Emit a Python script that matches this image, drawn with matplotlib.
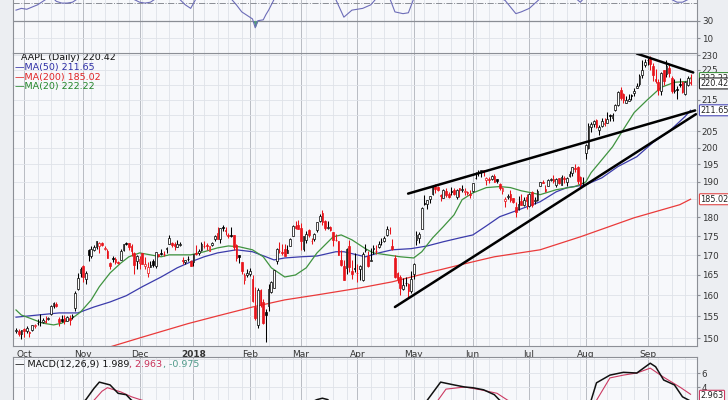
import numpy as np
import pandas as pd
import matplotlib
matplotlib.use("Agg")
import matplotlib.pyplot as plt
import matplotlib.transforms as mtransforms
from matplotlib.ticker import NullLocator

# trading calendar
start_date = "2017-09-27"
holidays = ["2017-11-23", "2017-12-25", "2018-01-01", "2018-01-15", "2018-02-19",
            "2018-03-30", "2018-05-28", "2018-07-04", "2018-09-03"]

# daily OHLC (raw, before dividend adjustment), Sep 27 2017 .. Sep 26 2018
opens = [153.8, 153.9, 153.2,
    154.3, 154.0, 153.6, 154.2, 154.97, 155.8, 156.1, 155.97, 156.35, 156.73, 157.9, 159.78, 160.42, 156.75, 156.61, 156.89, 156.29, 156.91, 157.23, 159.29, 163.89, 167.90,
    169.87, 166.60, 174.00, 172.37, 173.91, 174.66, 175.11, 175.11, 173.5, 173.04, 169.97, 171.18, 171.04, 170.29, 170.78, 173.36, 175.10, 175.05, 174.30, 172.63, 170.43,
    169.95, 172.48, 169.06, 167.50, 169.03, 170.49, 169.20, 172.15, 172.50, 172.40, 173.63, 174.88, 175.03, 174.87, 174.17, 174.68, 170.80, 170.10, 171.00, 170.52,
    170.16, 172.53, 172.54, 173.44, 174.35, 174.55, 173.16, 174.59, 176.18, 177.90, 176.15, 179.37, 178.61, 177.30, 177.30, 177.25, 174.51, 172.00, 170.16, 165.53, 166.87,
    167.17, 166.00, 159.10, 154.83, 163.09, 160.29, 157.07, 158.50, 161.95, 163.04, 169.79, 172.36, 172.05, 172.83, 171.80, 173.67, 176.35, 179.10, 179.26,
    178.54, 172.80, 175.21, 177.91, 174.94, 175.48, 177.96, 180.29, 182.59, 180.32, 178.50, 178.65, 177.32, 175.24, 175.04, 170.00, 168.39, 168.07, 173.68, 167.25, 167.81,
    166.64, 167.64, 164.88, 172.58, 170.97, 169.88, 173.00, 172.23, 173.41, 174.78, 175.03, 176.49, 177.81, 173.76, 170.60, 166.83, 165.67, 162.62, 164.12, 164.00, 162.13,
    166.41, 175.23, 175.88, 178.25, 185.18, 184.99, 186.55, 187.74, 189.49, 189.01, 186.78, 186.07, 188.00, 187.19, 188.00, 188.38, 186.35, 188.77, 188.23, 187.60, 187.72, 187.22,
    187.99, 191.64, 193.07, 193.63, 194.14, 191.17, 191.35, 191.39, 192.42, 191.55, 190.03, 187.88, 185.14, 186.35, 187.25, 186.12, 183.40, 182.99, 185.23, 184.10, 186.29,
    183.82, 187.79, 185.26, 185.42, 189.50, 190.71, 188.50, 189.53, 191.08, 191.52, 189.75, 191.78, 189.69, 191.78, 190.68, 192.45, 193.06, 194.61, 194.99, 191.90, 190.30,
    199.13, 200.58, 207.03, 208.00, 209.32, 206.05, 207.28, 207.36, 207.70, 210.16, 209.22, 211.75, 213.44, 218.10, 216.80, 214.10, 214.65, 216.60, 217.15, 219.01, 220.15, 223.25, 226.51,
    228.41, 228.99, 226.23, 221.85, 220.95, 218.01, 224.94, 223.52, 225.75, 222.15, 217.79, 218.50, 220.24, 220.78, 216.82, 219.75, 221.00]
highs = [154.7, 154.3, 154.1,
    154.5, 155.1, 153.9, 155.4, 155.5, 156.7, 158.0, 156.98, 157.37, 157.28, 160.0, 160.87, 160.71, 157.08, 157.75, 157.69, 157.42, 157.55, 157.83, 163.60, 168.07, 169.65,
    169.94, 168.50, 174.26, 174.99, 175.25, 176.24, 176.10, 175.38, 174.5, 173.48, 170.32, 171.87, 171.39, 170.56, 173.70, 175.00, 175.50, 175.08, 174.87, 172.92, 172.14,
    171.67, 172.62, 171.52, 170.20, 170.44, 171.00, 172.89, 172.39, 173.54, 173.13, 174.17, 177.20, 175.39, 175.42, 176.02, 175.42, 171.47, 170.78, 171.85, 170.59,
    172.30, 174.55, 173.47, 175.37, 175.61, 175.06, 174.30, 175.49, 177.36, 179.39, 179.25, 180.10, 179.58, 177.78, 179.44, 177.30, 174.95, 172.00, 170.16, 167.37, 168.44,
    168.62, 166.80, 163.88, 163.72, 163.40, 161.00, 157.89, 163.89, 164.75, 167.54, 173.09, 174.82, 174.26, 174.12, 173.95, 175.65, 179.39, 180.48, 180.62,
    179.78, 176.30, 177.74, 178.25, 175.85, 177.12, 180.00, 182.39, 183.50, 180.52, 180.24, 179.12, 177.47, 176.80, 175.09, 172.68, 169.92, 173.10, 175.15, 170.02, 171.75,
    168.94, 168.75, 172.01, 174.23, 172.48, 173.09, 174.00, 173.92, 175.00, 175.84, 176.19, 178.94, 178.82, 175.39, 171.22, 166.92, 166.33, 165.42, 165.73, 164.33, 167.26,
    169.20, 177.75, 177.50, 184.25, 187.67, 186.22, 187.40, 190.37, 190.06, 189.53, 187.07, 188.46, 188.91, 187.81, 189.27, 188.88, 188.50, 188.84, 189.65, 188.75, 188.00, 188.23,
    190.26, 193.42, 193.94, 194.08, 194.20, 192.00, 191.97, 192.61, 192.88, 191.57, 190.16, 189.22, 186.33, 187.20, 188.35, 186.15, 184.92, 186.53, 187.28, 186.21, 187.19,
    187.30, 187.95, 186.41, 188.43, 190.68, 191.28, 189.78, 191.41, 191.84, 192.65, 191.87, 191.80, 192.55, 192.43, 191.96, 193.66, 194.85, 195.96, 195.19, 192.20, 192.14,
    201.76, 208.38, 208.74, 209.25, 209.50, 207.81, 209.78, 209.10, 210.95, 210.56, 210.74, 213.81, 217.95, 219.18, 217.19, 216.36, 217.05, 216.90, 218.74, 220.54, 223.49, 228.26, 228.87,
    229.18, 229.67, 227.35, 225.37, 221.85, 224.30, 225.00, 228.35, 226.84, 222.95, 221.85, 219.62, 222.28, 221.36, 221.26, 222.82, 223.75]
lows = [153.5, 152.7, 152.0,
    152.5, 153.5, 152.5, 154.0, 154.6, 155.3, 155.1, 155.75, 155.73, 156.41, 157.65, 159.23, 159.6, 155.02, 155.96, 155.5, 156.2, 155.27, 156.78, 158.70, 163.72, 166.94,
    165.61, 165.28, 171.12, 171.72, 173.60, 174.33, 173.14, 174.27, 173.4, 171.18, 168.38, 170.30, 169.64, 169.56, 170.78, 173.05, 174.65, 173.34, 171.86, 167.16, 168.44,
    168.50, 169.63, 168.40, 166.46, 168.91, 168.82, 168.79, 171.46, 172.00, 171.65, 172.46, 174.86, 174.09, 173.25, 174.10, 174.50, 169.68, 169.71, 170.48, 169.22,
    169.26, 171.96, 172.08, 173.05, 173.93, 173.41, 173.00, 174.49, 175.65, 176.14, 175.07, 178.25, 177.41, 176.60, 176.82, 173.20, 170.53, 170.06, 167.07, 164.70, 166.50,
    166.76, 160.10, 156.00, 154.00, 159.07, 155.03, 150.24, 157.51, 161.65, 162.88, 169.00, 171.77, 171.42, 171.01, 171.71, 173.54, 176.21, 178.16, 178.05,
    172.66, 172.45, 174.52, 176.13, 174.27, 175.07, 177.39, 180.21, 179.24, 177.81, 178.07, 177.62, 173.66, 174.94, 171.26, 168.60, 164.94, 166.44, 166.92, 165.19, 166.90,
    164.47, 164.88, 164.77, 172.08, 168.20, 169.85, 171.53, 171.70, 173.04, 173.85, 174.83, 176.41, 176.88, 172.66, 165.43, 164.09, 161.22, 162.41, 163.37, 160.63, 161.84,
    165.27, 173.80, 174.44, 178.17, 184.75, 183.67, 185.22, 187.65, 187.45, 187.86, 185.10, 186.00, 186.36, 186.13, 186.91, 186.78, 185.76, 186.21, 187.65, 186.87, 186.78, 186.14,
    187.75, 191.35, 192.36, 191.92, 192.34, 189.77, 190.21, 191.15, 190.44, 190.22, 188.26, 187.20, 183.45, 185.73, 184.94, 184.70, 180.73, 182.54, 184.03, 183.80, 182.91,
    183.42, 183.54, 184.28, 185.20, 189.30, 190.18, 187.61, 189.31, 190.90, 190.42, 189.20, 189.93, 189.69, 190.17, 189.56, 192.05, 192.43, 193.61, 190.10, 189.07, 189.34,
    197.31, 200.35, 205.48, 207.07, 206.76, 204.52, 207.20, 206.67, 207.70, 208.26, 208.33, 211.47, 213.16, 215.11, 214.03, 213.84, 214.60, 215.11, 216.33, 218.92, 219.41, 222.40, 226.00,
    226.63, 225.10, 221.30, 220.71, 216.47, 216.56, 219.84, 222.57, 222.52, 217.27, 217.12, 215.30, 219.15, 217.29, 216.63, 219.70, 219.76]
closes = [154.23, 153.28, 154.12,
    153.81, 154.48, 153.48, 155.39, 155.30, 155.84, 155.90, 156.55, 156.00, 156.99, 159.88, 160.47, 159.76, 155.98, 156.25, 156.17, 157.10, 156.41, 157.41, 163.05, 166.72, 169.04,
    166.89, 168.11, 172.50, 174.25, 174.81, 176.24, 175.88, 174.67, 173.97, 171.34, 169.08, 171.10, 170.15, 169.98, 173.14, 174.96, 174.97, 174.09, 173.07, 169.48, 171.85,
    171.05, 169.80, 169.64, 169.01, 169.32, 169.37, 172.67, 171.70, 172.27, 172.22, 173.97, 176.42, 174.54, 174.35, 175.01, 175.01, 170.57, 170.60, 171.08, 169.23,
    172.26, 172.23, 173.03, 175.00, 174.35, 174.33, 174.29, 175.28, 177.09, 176.19, 179.10, 179.26, 178.46, 177.00, 177.04, 174.22, 171.11, 171.51, 167.96, 166.97, 167.43,
    167.78, 160.50, 156.49, 163.03, 159.54, 155.15, 156.41, 162.71, 164.34, 167.37, 172.99, 172.43, 171.85, 171.07, 172.50, 175.50, 178.97, 178.39, 178.12,
    175.00, 176.21, 176.82, 176.67, 175.03, 176.94, 179.98, 181.72, 179.97, 178.44, 178.65, 178.02, 175.30, 175.24, 171.27, 168.85, 164.94, 172.77, 168.34, 166.48, 167.78,
    166.68, 168.39, 171.61, 172.80, 168.38, 170.05, 173.25, 172.44, 174.14, 174.73, 175.82, 178.24, 177.84, 172.80, 165.72, 165.24, 162.94, 163.65, 164.22, 162.32, 165.26,
    169.10, 176.57, 176.89, 183.83, 185.16, 186.05, 187.36, 190.04, 188.59, 188.15, 186.44, 188.18, 186.99, 186.31, 187.63, 187.16, 188.36, 188.15, 188.58, 187.90, 187.50, 186.87,
    190.24, 191.83, 193.31, 193.98, 193.46, 191.70, 191.23, 192.28, 190.70, 190.80, 188.84, 188.74, 185.69, 186.50, 185.46, 184.92, 182.17, 184.43, 184.16, 185.50, 185.11,
    187.18, 183.92, 185.40, 187.97, 190.58, 190.35, 187.88, 191.03, 191.33, 190.91, 191.45, 190.40, 191.88, 191.44, 191.61, 193.00, 194.82, 194.21, 190.98, 189.91, 190.29,
    201.50, 207.39, 207.99, 209.07, 207.11, 207.25, 208.88, 207.53, 208.87, 209.75, 210.24, 213.32, 217.58, 215.46, 215.04, 215.05, 215.19, 216.16, 217.94, 219.70, 222.98, 225.03, 227.63,
    228.36, 226.87, 223.10, 221.30, 218.33, 223.85, 221.07, 226.41, 223.84, 217.88, 218.24, 218.37, 220.03, 217.66, 220.79, 222.19, 220.42]

# ex-dividend dates used to adjust the older prices
dividends = [("2017-11-10", 0.63), ("2018-02-09", 0.63), ("2018-05-11", 0.73), ("2018-08-10", 0.73)]

# moving averages (trading-day index, value)
ma50_idx = [0, 16, 23, 29, 35, 41, 47, 54, 60, 65, 70, 75, 82, 88, 93, 96, 100, 106, 112, 119, 122, 130,
            135, 140, 147, 153, 159, 165, 170, 175, 180, 186, 195, 201, 205, 212, 218, 224, 231, 237, 243, 249, 251]
ma50_val = [154.8, 155.8, 155.8, 157.2, 158.4, 159.9, 162.1, 164.5, 166.8, 168.3, 169.6, 170.6, 171.4, 170.9,
            169.6, 168.8, 169.3, 169.6, 169.8, 170.9, 170.9, 169.6, 170.6, 171.4, 171.7, 172.4, 173.5, 174.5,
            175.3, 177.7, 180.2, 181.8, 184.3, 187.1, 188.3, 189.1, 191.1, 194.4, 197.3, 201.6, 205.0, 209.7, 211.65]
ma20_idx = [0, 2, 5, 10, 14, 17, 21, 24, 28, 31, 35, 39, 42, 46, 50, 54, 57, 65, 70, 75, 79, 83, 88, 92, 95,
            100, 104, 108, 112, 118, 121, 125, 130, 133, 138, 143, 148, 151, 155, 159, 163, 166, 170, 175, 180,
            184, 188, 192, 195, 201, 208, 212, 214, 218, 222, 226, 230, 235, 240, 245, 250, 251]
ma20_val = [156.5, 155.3, 154.6, 153.4, 153.0, 153.4, 154.6, 156.0, 158.9, 162.1, 165.5, 168.0, 169.6, 170.6,
            170.1, 169.6, 170.1, 170.1, 170.9, 171.9, 172.4, 172.2, 171.4, 169.6, 166.8, 164.5, 165.0, 166.8,
            170.6, 174.8, 175.3, 174.0, 171.7, 170.6, 170.1, 169.6, 169.3, 170.9, 174.5, 177.5, 180.7, 184.9,
            186.8, 188.3, 188.6, 188.3, 187.4, 186.8, 186.3, 187.7, 188.6, 189.9, 192.6, 196.4, 200.3, 205.6,
            210.9, 215.1, 219.1, 220.8, 221.1, 222.22]
ma200_idx = [35, 47, 64, 75, 88, 100, 112, 128, 140, 153, 165, 173, 178, 195, 210, 230, 247, 251]
ma200_val = [148.0, 150.2, 153.3, 155.1, 157.2, 158.9, 160.1, 161.8, 163.3, 165.5, 167.5, 168.8, 169.6,
             171.4, 174.8, 179.9, 183.5, 185.02]

# hand-drawn trendlines (index, price) pairs
trend_upper = ([145.9, 252.7], [186.6, 211.6])
trend_lower = ([141.0, 253.0], [157.2, 210.4])
trend_top = ([231.0, 252.0], [230.6, 224.1])

rsi_idx = [0, 2, 4, 8, 11, 13, 15, 17, 19, 21, 23, 27, 32, 38, 42, 44, 46, 48, 50, 52, 56, 59, 61, 63, 65, 67,
           72, 77, 80, 82, 84, 87, 88, 89, 90, 92, 93, 94, 96, 100, 105, 110, 115, 119, 122, 125, 129, 132, 134,
           137, 139, 141, 144, 146, 148, 152, 160, 170, 175, 180, 182, 186, 188, 191, 195, 200, 205, 208, 210,
           212, 215, 225, 235, 240, 242, 244, 246, 248, 250, 251]
rsi_val = [42, 44, 43, 48, 54, 58, 52, 50, 50, 51, 55, 70, 72, 62, 58, 54, 51, 50, 51, 55, 62, 58, 54, 48, 44, 55,
           62, 66, 55, 48, 40, 34, 32, 22, 30, 31, 37, 42, 54, 60, 62, 65, 60, 54, 34, 42, 44, 48, 55,
           62, 56, 40, 38, 39, 55, 75, 68, 62, 60, 56, 53, 38, 40, 44, 55, 62, 64, 56, 51,
           58, 78, 70, 75, 62, 57, 54, 51, 51, 54, 56]

# MACD(12,26,9) line and signal
macd_idx = [0, 10, 20, 24, 26, 29, 31, 35, 38, 41, 43, 48, 60, 75, 90, 100, 108, 112, 114, 116, 120, 135, 148,
            153, 158, 163, 167, 170, 174, 178, 180, 190, 205, 212, 214, 216, 221, 226, 231, 236, 238, 241, 245,
            248, 251]
macd_val = [-0.5, -0.3, 0.0, 1.5, 2.2, 3.8, 4.7, 4.3, 3.1, 2.9, 2.1, 1.2, 1.0, 1.5, -2.0, -0.5, 1.5, 2.2, 2.4,
            2.2, 0.5, -1.5, 0.0, 2.1, 4.7, 4.3, 4.0, 3.9, 3.6, 2.9, 2.1, 0.3, 0.8, 1.5, 2.1, 4.6, 5.7, 6.1, 6.0,
            7.4, 6.9, 5.0, 4.3, 2.6, 1.989]
signal_idx = [0, 20, 26, 29, 32, 34, 39, 43, 47, 55, 75, 95, 110, 116, 125, 140, 152, 157, 160, 167, 173, 179,
              183, 195, 210, 216, 221, 226, 231, 236, 241, 247, 251]
signal_val = [-0.3, -0.2, 1.0, 2.1, 3.4, 3.9, 3.3, 2.6, 2.1, 1.3, 1.2, -1.0, 1.0, 1.9, 1.0, -0.8, 0.5, 2.1, 3.7,
              4.0, 3.6, 3.1, 2.1, 0.8, 0.8, 2.1, 5.3, 5.7, 6.0, 6.7, 5.4, 4.0, 2.963]

price_ticks = [150, 155, 160, 165, 170, 175, 180, 190, 195, 200, 205, 215, 225, 230]

# ---------------------------------------------------------------------------
n = len(closes)
for name, arr in [("opens", opens), ("highs", highs), ("lows", lows)]:
    if len(arr) != n:
        raise ValueError(name + " has %d values, closes %d" % (len(arr), n))

dates = pd.date_range(start_date, periods=n, freq=pd.offsets.CustomBusinessDay(holidays=holidays))
o = np.array(opens); h = np.array(highs); l = np.array(lows); c = np.array(closes)
adj = np.ones(n)
for d, amt in dividends:
    k = dates.searchsorted(pd.Timestamp(d))
    adj[:k] *= 1 - amt / c[k - 1]
o, h, l, c = o * adj, h * adj, l * adj, c * adj
x = np.arange(n)

week_starts = [i for i in range(1, n) if dates[i].weekday() < dates[i - 1].weekday()]
month_starts = [i for i in range(1, n) if dates[i].month != dates[i - 1].month]
month_labels = ["2018" if dates[i].month == 1 else dates[i].strftime("%b") for i in month_starts]

panel_bg = "#f7f8fb"
fig = plt.figure(figsize=(7.28, 4.0), dpi=100, facecolor="#eceef2")
plt.rcParams["font.family"] = ["DejaVu Sans"]
L, W = 13 / 728, 684 / 728
ax = fig.add_axes([L, 54 / 400, W, 293 / 400])
ax_rsi = fig.add_axes([L, 347 / 400, W, 100 / 400])
ax_macd = fig.add_axes([L, -60 / 400, W, 103 / 400])

xlim = (-1.12, 253.4)
for a in (ax, ax_rsi, ax_macd):
    a.set_facecolor(panel_bg)
    a.set_xlim(*xlim)
    for s in a.spines.values():
        s.set_color("#8c8f96")
        s.set_linewidth(0.8)
    for i in week_starts:
        a.axvline(i, color="#dfe2e8", lw=0.6, zorder=0)
    for i in month_starts:
        a.axvline(i, color="#b9bcc3", lw=0.7, zorder=0)
    a.yaxis.tick_right()
    a.tick_params(axis="y", labelsize=6.3, length=2, pad=1.5, colors="#333333")
    a.tick_params(axis="y", color="#8c8f96")

# --- price panel ---
ax.set_yscale("log")
ax.set_ylim(148.2, 230.8)
ax.yaxis.set_minor_locator(NullLocator())
ax.set_yticks(price_ticks)
ax.set_yticklabels([str(t) for t in price_ticks])
for t in range(150, 235, 5):
    ax.axhline(t, color="#dfe2e8", lw=0.6, zorder=0)

prev = np.concatenate([[o[0]], c[:-1]])
edge = np.where(c >= prev, "black", "#e8141b")
face = np.where(c > o, "white", edge)
ax.vlines(x, l, h, colors=edge, lw=0.75, zorder=3)
ax.bar(x, np.maximum(np.abs(c - o), 0.08), bottom=np.minimum(o, c), width=0.62,
       color=face, edgecolor=edge, linewidth=0.5, zorder=4)

ax.plot(ma200_idx, ma200_val, color="#ea3a3a", lw=0.9, zorder=2)
ax.plot(ma50_idx, ma50_val, color="#3b3bab", lw=0.9, zorder=2)
ax.plot(ma20_idx, ma20_val, color="#3f933f", lw=0.9, zorder=2)
for tx, ty in (trend_upper, trend_lower, trend_top):
    ax.plot(tx, ty, color="black", lw=1.8, solid_capstyle="round", zorder=5)

ax.set_xticks(month_starts)
ax.set_xticklabels(month_labels)
ax.tick_params(axis="x", length=0, pad=3, labelsize=6.5, colors="#333333")
for lab in ax.get_xticklabels():
    if lab.get_text() == "2018":
        lab.set_fontweight("bold")

ax.text(0.011, 0.983, "AAPL (Daily) 220.42", transform=ax.transAxes, fontsize=6.8,
        color="#111111", va="center", ha="left")
ax.text(0.003, 0.950, "\u2014MA(50) 211.65", transform=ax.transAxes, fontsize=6.8, color="#2e2ea6", va="center")
ax.text(0.003, 0.918, "\u2014MA(200) 185.02", transform=ax.transAxes, fontsize=6.8, color="#e02424", va="center")
ax.text(0.003, 0.885, "\u2014MA(20) 222.22", transform=ax.transAxes, fontsize=6.8, color="#23862a", va="center")

tr = mtransforms.blended_transform_factory(ax.transAxes, ax.transData)
for val, s, col in [(222.22, "222.22", "#3f933f"), (220.42, "220.42", "#222222"),
                    (211.65, "211.65", "#4a4ab8"), (185.02, "185.02", "#e04848")]:
    ax.text(1.005, val, s, transform=tr, fontsize=5.9, va="center", ha="left", color="#222222",
            bbox=dict(boxstyle="round,pad=0.12", fc="white", ec=col, lw=0.8), clip_on=False, zorder=6)

# --- RSI panel (only its lower part is inside the picture) ---
ax_rsi.set_ylim(-6.7, 106.9)
ax_rsi.set_xticks([])
ax_rsi.set_yticks([10, 30])
ax_rsi.set_yticklabels(["10", "30"])
ax_rsi.axhline(10, color="#dfe2e8", lw=0.6, zorder=0)
ax_rsi.axhline(30, color="#8a8d94", lw=0.9, zorder=1)
ax_rsi.axhline(50, color="#8a8d94", lw=0.7, ls="-.", zorder=1)
rv = np.array(rsi_val, dtype=float)
ax_rsi.fill_between(rsi_idx, rv, 30, where=rv < 30, interpolate=True, color="#4f9a7a", lw=0, zorder=2)
ax_rsi.plot(rsi_idx, rv, color="#6d6db8", lw=0.8, zorder=3)

# --- MACD panel (only its upper part is inside the picture) ---
ax_macd.set_ylim(-6.43, 8.29)
ax_macd.set_xticks([])
ax_macd.set_yticks([4, 6])
ax_macd.set_yticklabels(["4", "6"])
for t in (2, 4, 6, 8):
    ax_macd.axhline(t, color="#dfe2e8", lw=0.6, zorder=0)
ax_macd.plot(signal_idx, signal_val, color="#cc3a62", lw=0.8, zorder=2)
ax_macd.plot(macd_idx, macd_val, color="#111111", lw=1.1, zorder=3)
trm = mtransforms.blended_transform_factory(ax_macd.transAxes, ax_macd.transData)
ax_macd.text(1.005, 2.75, "2.963", transform=trm, fontsize=5.9, va="center", ha="left", color="#222222",
             bbox=dict(boxstyle="round,pad=0.12", fc="white", ec="#cc3a62", lw=0.8), clip_on=False)

t = ax_macd.text(0.003, 0.885, "\u2014 MACD(12,26,9) 1.989", transform=ax_macd.transAxes,
                 fontsize=6.8, color="#111111", va="bottom", ha="left")
for s, col in [(", 2.963", "#c8325a"), (", -0.975", "#4f9a8a")]:
    t = ax_macd.annotate(s, xy=(1, 0), xycoords=t, xytext=(0, 0), textcoords="offset points",
                         fontsize=6.8, color=col, va="bottom", ha="left")

fig.savefig("out.png", dpi=100, facecolor=fig.get_facecolor())
